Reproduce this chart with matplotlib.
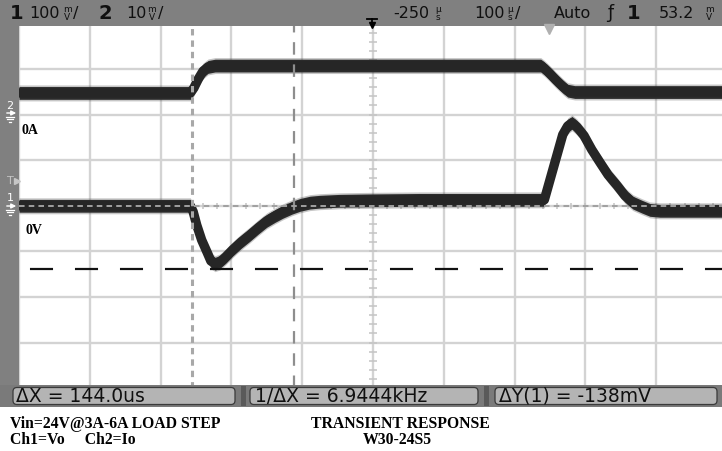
import matplotlib
matplotlib.use("Agg")
import numpy as np
import matplotlib.pyplot as plt
from matplotlib.patches import Rectangle, FancyBboxPatch

plt.rcParams['lines.scale_dashes'] = False
plt.rcParams['font.family'] = ['DejaVu Sans']

# ---------------- data ----------------
# Channel 1 : output voltage Vo (AC coupled), 100 mV/div
ch1_time_us = [-750, -508, -504, -499, -492, -484, -479, -473, -466, -458, -448,
               -436, -424, -412, -400, -388, -377, -364, -353, -339, -325, -297,
               -254, -184, -14, -8, 0, 10, 18, 25, 31, 38, 48, 59, 71, 82, 95,
               106, 117, 130, 141, 155, 184, 250]
ch1_mV = [0, 0, -13, -42, -75, -103, -121, -127, -123, -112, -96,
          -79, -64, -48, -33, -22, -13, -4, 2, 7, 9, 11,
          12, 13, 13, 13, 57, 112, 156, 175, 182, 173, 154, 123, 94, 68, 44,
          22, 7, -2, -9, -11, -11, -11]
# Channel 2 : load current probe Io, 10 mV/div
ch2_time_us = [-750, -508, -503, -497, -490, -483, -473, -13, -8, 0, 8, 18, 25, 35, 250]
ch2_mV = [4.4, 4.4, 5.5, 7.4, 9.2, 10.1, 10.4, 10.4, 9.8, 8.6, 7.3, 5.8, 4.9, 4.6, 4.6]

# scope settings
ch1_scale_mV = 100
ch2_scale_mV = 10
time_scale_us = 100
delay_us = -250
cursor_x1_us = -506.0
delta_x_us = 144.0
cursor_y1_mV = 0.0
delta_y_mV = -138.0

# texts
status_left = ["1", "100", "2", "10"]
status_right = ["-250", "100", "Auto", "1", "53.2"]
meas_texts = ["\u0394X = 144.0us", "1/\u0394X = 6.9444kHz", "\u0394Y(1) = -138mV"]
caption_left = ["Vin=24V@3A-6A LOAD STEP", "Ch1=Vo     Ch2=Io"]
caption_right = ["TRANSIENT RESPONSE", "W30-24S5"]
trace_labels = ["0A", "0V"]

# ---------------- figure ----------------
W, H = 722, 451
fig = plt.figure(figsize=(W / 100, H / 100), dpi=100)
fig.patch.set_facecolor('white')

# screen area in pixels
sx0, sx1 = 19.0, 19.0 + 10 * 70.8
sy_top, sy_bot = 23.4, 23.4 + 8 * 45.6
ax = fig.add_axes([sx0 / W, (H - sy_bot) / H, (sx1 - sx0) / W, (sy_bot - sy_top) / H])
ax.set_zorder(1)
t0 = delay_us - 5 * time_scale_us
t1 = delay_us + 5 * time_scale_us
ax.set_xlim(t0, t1)
ax.set_ylim(-4, 4)
ax.set_xticks(np.arange(t0, t1 + 1, time_scale_us))
ax.set_yticks(np.arange(-4, 5, 1))
ax.grid(True, color='#d3d3d3', lw=1.7, zorder=0)
ax.tick_params(length=0, labelbottom=False, labelleft=False)
for s in ax.spines.values():
    s.set_visible(False)
ax.set_axisbelow(True)

# center-axis minor ticks
ax.vlines(np.arange(t0, t1 + 1, time_scale_us / 5), -0.07, 0.07, color='#c4c4c4', lw=1.1, zorder=1)
ax.hlines(np.arange(-4, 4.01, 0.2), delay_us - 5, delay_us + 5, color='#c4c4c4', lw=1.1, zorder=1)

# positions of channel references (divisions from screen centre)
ch1_pos = 0.0
ch2_pos = (205.8 - 113.0) / 45.6


def trace(t, y):
    t = np.asarray(t, float)
    y = np.asarray(y, float)
    ax.fill_between(t, y - 0.175, y + 0.175, color='#444444', alpha=0.3, lw=0, zorder=3)
    ax.fill_between(t, y - 0.14, y + 0.14, color='#2b2b2b', lw=0, zorder=3)
    ax.plot(t, y, color='#262626', lw=6.8, solid_joinstyle='round', solid_capstyle='butt', zorder=3)


trace(ch1_time_us, np.asarray(ch1_mV) / ch1_scale_mV + ch1_pos)
trace(ch2_time_us, np.asarray(ch2_mV) / ch2_scale_mV + ch2_pos)

# cursors
ax.axvline(cursor_x1_us, color='#a8a8a8', lw=2.2, ls=(0, (4.6, 3.6)), zorder=4)
ax.axvline(cursor_x1_us + delta_x_us, color='#8e8e8e', lw=1.6, ls=(0, (9, 7)), zorder=4)
ax.axhline(cursor_y1_mV / ch1_scale_mV + ch1_pos, color='#a0a0a0', lw=1.4, ls=(0, (4, 3)), zorder=4)
ax.axhline((cursor_y1_mV + delta_y_mV) / ch1_scale_mV + ch1_pos, color='#111111', lw=1.6,
           ls=(24.5, (16.6, 15.8)), zorder=4)

# ---------------- overlay (scope chrome) in pixel coordinates ----------------
ov = fig.add_axes([0, 0, 1, 1])
ov.set_zorder(5)
ov.set_xlim(0, W)
ov.set_ylim(H, 0)
ov.axis('off')

bar = '#808080'
ov.add_patch(Rectangle((0, 0), W, 26, color=bar, lw=0))
ov.add_patch(Rectangle((0, 0), 19, 386, color=bar, lw=0))
ov.add_patch(Rectangle((0, 385), W, 22, color='#7a7a7a', lw=0))
for (a, b) in [(10, 238), (247, 481), (492, 720)]:
    ov.add_patch(FancyBboxPatch((a + 3, 387.5), b - a - 6, 17, boxstyle='round,pad=0,rounding_size=4',
                                fc='#b4b4b4', ec='#3a3a3a', lw=0.9))
for xs in (241, 484):
    ov.add_patch(Rectangle((xs, 386), 5, 20, color='#5a5a5a', lw=0))


def txt(x, y, s, size=12, **kw):
    kw.setdefault('ha', 'left')
    kw.setdefault('va', 'center')
    kw.setdefault('color', '#101010')
    return ov.text(x, y, s, fontsize=size, **kw)


def stacked(x, top, bot, size=6.5):
    txt(x, 9.5, top, size=size, ha='center')
    txt(x, 17.5, bot, size=size, ha='center')


# top status line
txt(10, 13.5, status_left[0], size=14, fontweight='bold')
txt(29, 13.5, status_left[1], size=11.5)
stacked(67, 'm', 'V')
txt(73, 13.5, '/', size=11.5)
txt(99, 13.5, status_left[2], size=14, fontweight='bold')
txt(126, 13.5, status_left[3], size=11.5)
stacked(152, 'm', 'V')
txt(158, 13.5, '/', size=11.5)

txt(393, 13.5, status_right[0], size=11.5)
stacked(438, '\u00b5', 's')
txt(474, 13.5, status_right[1], size=11.5)
stacked(510, '\u00b5', 's')
txt(515, 13.5, '/', size=11.5)
txt(554, 13.5, status_right[2], size=11.5)
txt(607, 13.5, '\u0192', size=12.5)
txt(627, 13.5, status_right[3], size=14, fontweight='bold')
txt(659, 13.5, status_right[4], size=11.5)
stacked(709, 'm', 'V')

# time reference glyph and markers
ov.plot([367, 377], [19, 19], color='black', lw=1.3)
ov.plot([372, 372], [19, 24], color='black', lw=1.3)
ov.plot([372], [25], marker='v', ms=4.5, color='black')
ov.plot([549], [29], marker='v', ms=7, color='#b0b0b0', mec='#b0b0b0')

# left-side channel markers
txt(10, 106, '2', size=8, color='white', ha='center')
ov.annotate('', xy=(19, 113), xytext=(4, 113),
            arrowprops=dict(arrowstyle='-|>', color='white', lw=1.0, mutation_scale=7))
for i, hw in enumerate([4, 2.8, 1.4]):
    ov.plot([10 - hw, 10 + hw], [117 + 2.3 * i, 117 + 2.3 * i], color='white', lw=0.9)
txt(10.5, 181, 'T', size=8, color='#c6c6c6', ha='center')
ov.plot([17], [181], marker='>', ms=4, color='#c6c6c6')
txt(10, 198, '1', size=8, color='white', ha='center')
ov.annotate('', xy=(19, 206), xytext=(4, 206),
            arrowprops=dict(arrowstyle='-|>', color='white', lw=1.0, mutation_scale=7))
for i, hw in enumerate([4, 2.8, 1.4]):
    ov.plot([10 - hw, 10 + hw], [210 + 2.3 * i, 210 + 2.3 * i], color='white', lw=0.9)

# trace labels
serif = ['Liberation Serif', 'DejaVu Serif']
txt(22, 131, trace_labels[0], size=10, fontweight='bold', family=serif, color='black')
txt(26, 231, trace_labels[1], size=10, fontweight='bold', family=serif, color='black')

# measurement bar
txt(16, 396.5, meas_texts[0], size=13.5)
txt(255, 396.5, meas_texts[1], size=13.5)
txt(499, 396.5, meas_texts[2], size=13.5)

# captions
txt(10, 428, caption_left[0], size=11.3, fontweight='bold', family=serif, color='black', va='baseline')
txt(10, 444, caption_left[1], size=11.3, fontweight='bold', family=serif, color='black', va='baseline')
txt(400, 428, caption_right[0], size=11.3, fontweight='bold', family=serif, color='black',
    va='baseline', ha='center')
txt(397, 444, caption_right[1], size=11.3, fontweight='bold', family=serif, color='black',
    va='baseline', ha='center')

fig.savefig('out.png', dpi=100, facecolor='white')
